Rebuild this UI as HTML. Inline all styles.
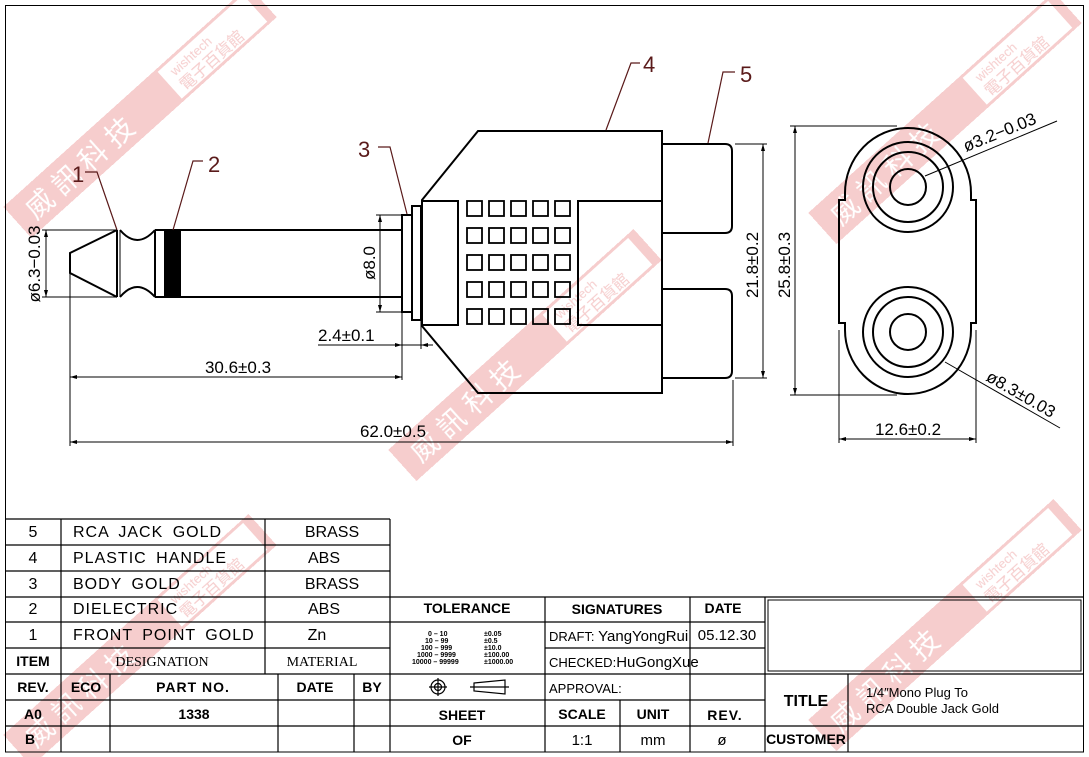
<!DOCTYPE html>
<html><head><meta charset="utf-8"><style>
html,body{margin:0;padding:0;background:#fff}
svg{display:block}
text{font-family:"Liberation Sans","Noto Sans CJK TC",sans-serif;fill:#000}
.r{fill:#5a1a1a}
</style></head><body>
<svg width="1089" height="757" viewBox="0 0 1089 757" xmlns="http://www.w3.org/2000/svg">
<defs>
<g id="wm">
<rect x="-165" y="-21" width="330" height="42" fill="#f2b8b8"/>
<text x="-150" y="11" font-size="28" style="fill:#fff" font-family="Noto Sans CJK TC,sans-serif">威 訊 科 技</text>
<rect x="40" y="-18" width="115" height="36" fill="#fff"/>
<text x="50" y="-3" font-size="13" style="fill:#f2b8b8">wishtech</text>
<text x="48" y="15" font-size="16" style="fill:#f2b8b8" font-family="Noto Sans CJK TC,sans-serif">電子百貨館</text>
</g>
</defs>
<g opacity="0.7">
<use href="#wm" transform="translate(140,112) rotate(-42)"/>
<use href="#wm" transform="translate(525,355) rotate(-42)"/>
<use href="#wm" transform="translate(945,118) rotate(-42)"/>
<use href="#wm" transform="translate(140,640) rotate(-42)"/>
<use href="#wm" transform="translate(945,625) rotate(-42)"/>
</g>
<g fill="none" stroke="#000" stroke-width="1">
<rect x="5.5" y="5.5" width="1078" height="746.5"/>
</g>
<!-- plug -->
<g fill="none" stroke="#000" stroke-width="2">
<path d="M117,230 L70,253 L70,273 L117,297"/>
<line x1="117" y1="230" x2="117" y2="297"/>
<line x1="120" y1="230" x2="120" y2="297" stroke-width="1"/>
<path d="M120,230 Q137,250 155,230"/>
<path d="M120,297 Q137,277 155,297"/>
<line x1="155" y1="230" x2="155" y2="297"/>
<line x1="155" y1="230" x2="402" y2="230"/>
<line x1="155" y1="297" x2="402" y2="297"/>
<rect x="402" y="215" width="10" height="97"/>
<rect x="412" y="206" width="9" height="114"/>
<path d="M422,200 L478,131 L662,131 L662,393 L478,393 L422,326 Z"/>
<path d="M422,201 L458,201 L458,325 L422,325"/>
<path d="M662,201 L578,201 L578,325 L662,325"/>
<path d="M662,144 L725,144 Q732,144 732,151 L732,226 Q732,233 725,233 L662,233"/>
<path d="M662,289 L725,289 Q732,289 732,296 L732,371 Q732,378 725,378 L662,378"/>
</g>
<rect x="164" y="230" width="17" height="67" fill="#000"/>
<g fill="none" stroke="#000" stroke-width="1.8">
<rect x="467" y="201" width="15" height="15"/><rect x="489" y="201" width="15" height="15"/><rect x="511" y="201" width="15" height="15"/><rect x="533" y="201" width="15" height="15"/><rect x="555" y="201" width="15" height="15"/>
<rect x="467" y="228" width="15" height="15"/><rect x="489" y="228" width="15" height="15"/><rect x="511" y="228" width="15" height="15"/><rect x="533" y="228" width="15" height="15"/><rect x="555" y="228" width="15" height="15"/>
<rect x="467" y="255" width="15" height="15"/><rect x="489" y="255" width="15" height="15"/><rect x="511" y="255" width="15" height="15"/><rect x="533" y="255" width="15" height="15"/><rect x="555" y="255" width="15" height="15"/>
<rect x="467" y="282" width="15" height="15"/><rect x="489" y="282" width="15" height="15"/><rect x="511" y="282" width="15" height="15"/><rect x="533" y="282" width="15" height="15"/><rect x="555" y="282" width="15" height="15"/>
<rect x="467" y="309" width="15" height="15"/><rect x="489" y="309" width="15" height="15"/><rect x="511" y="309" width="15" height="15"/><rect x="533" y="309" width="15" height="15"/><rect x="555" y="309" width="15" height="15"/>
</g>
<!-- leaders -->
<g fill="none" stroke="#5a1a1a" stroke-width="1.2">
<path d="M85,172 L97,172 L117,230"/>
<path d="M203,161 L193,161 L173,230"/>
<path d="M378,147 L390,147 L407,214"/>
<path d="M640,63 L631,63 L606,130"/>
<path d="M735,72 L723,72 L708,143"/>
</g>
<text class="r" x="72" y="182" font-size="22">1</text>
<text class="r" x="208" y="172" font-size="22">2</text>
<text class="r" x="358" y="157" font-size="22">3</text>
<text class="r" x="643" y="72" font-size="22">4</text>
<text class="r" x="740" y="82" font-size="22">5</text>
<!-- dimensions -->
<g fill="none" stroke="#000" stroke-width="1">
<line x1="42" y1="230" x2="117" y2="230"/><line x1="42" y1="297" x2="117" y2="297"/>
<line x1="46" y1="230" x2="46" y2="297"/>
<line x1="376" y1="215" x2="402" y2="215"/><line x1="376" y1="312" x2="402" y2="312"/>
<line x1="380" y1="215" x2="380" y2="312"/>
<line x1="402" y1="312" x2="402" y2="380"/><line x1="421" y1="320" x2="421" y2="349"/>
<line x1="318" y1="345" x2="433" y2="345"/>
<line x1="70" y1="273" x2="70" y2="446"/>
<line x1="70" y1="377" x2="402" y2="377"/>
<line x1="733" y1="380" x2="733" y2="446"/>
<line x1="70" y1="442" x2="733" y2="442"/>
<line x1="735" y1="144" x2="767" y2="144"/><line x1="735" y1="378" x2="767" y2="378"/>
<line x1="763" y1="144" x2="763" y2="378"/>
<line x1="790" y1="126" x2="897" y2="126"/><line x1="790" y1="395" x2="897" y2="395"/>
<line x1="795" y1="126" x2="795" y2="395"/>
<line x1="839" y1="330" x2="839" y2="443"/><line x1="976" y1="330" x2="976" y2="443"/>
<line x1="839" y1="439" x2="976" y2="439"/>
<line x1="925" y1="176" x2="1057" y2="121"/>
<line x1="945" y1="362" x2="1060" y2="428"/>
</g>
<g fill="#000">
<path d="M46,230 l-2,7 l4,0z M46,297 l-2,-7 l4,0z"/>
<path d="M380,215 l-2,7 l4,0z M380,312 l-2,-7 l4,0z"/>
<path d="M70,377 l7,-2 l0,4z M402,377 l-7,-2 l0,4z"/>
<path d="M70,442 l7,-2 l0,4z M733,442 l-7,-2 l0,4z"/>
<path d="M402,345 l-7,-2 l0,4z M421,345 l7,-2 l0,4z"/>
<path d="M763,144 l-2,7 l4,0z M763,378 l-2,-7 l4,0z"/>
<path d="M795,126 l-2,7 l4,0z M795,395 l-2,-7 l4,0z"/>
<path d="M839,439 l7,-2 l0,4z M976,439 l-7,-2 l0,4z"/>
</g>
<g font-size="17">
<text transform="translate(40,264) rotate(-90)" text-anchor="middle">ø6.3−0.03</text>
<text transform="translate(375,263) rotate(-90)" text-anchor="middle">ø8.0</text>
<text x="318" y="341">2.4±0.1</text>
<text x="238" y="373" text-anchor="middle">30.6±0.3</text>
<text x="393" y="437" text-anchor="middle">62.0±0.5</text>
<text transform="translate(758,265) rotate(-90)" text-anchor="middle">21.8±0.2</text>
<text transform="translate(790,265) rotate(-90)" text-anchor="middle">25.8±0.3</text>
<text x="908" y="435" text-anchor="middle">12.6±0.2</text>
<text transform="translate(966,152) rotate(-22)">ø3.2−0.03</text>
<text transform="translate(985,380) rotate(30)">ø8.3±0.03</text>
</g>
<!-- side view -->
<g fill="none" stroke="#000" stroke-width="2">
<path d="M845,193 A63,65 0 0 1 971,193 L971,200 L976,200 L976,323 L971,323 L971,330 A63,64 0 0 1 845,330 L845,323 L839,323 L839,200 L845,200 Z"/>
<circle cx="908" cy="187" r="45"/><circle cx="908" cy="187" r="35"/><circle cx="908" cy="187" r="18"/>
<circle cx="908" cy="332" r="45"/><circle cx="908" cy="332" r="35"/><circle cx="908" cy="332" r="18"/>
</g>
<!-- table -->
<g fill="none" stroke="#000" stroke-width="1.2">
<line x1="5" y1="519" x2="390" y2="519"/>
<line x1="5" y1="545" x2="390" y2="545"/>
<line x1="5" y1="571" x2="390" y2="571"/>
<line x1="5" y1="597" x2="1084" y2="597"/>
<line x1="5" y1="622" x2="765" y2="622"/>
<line x1="5" y1="648" x2="390" y2="648"/>
<line x1="545" y1="648" x2="765" y2="648"/>
<line x1="5" y1="674" x2="1084" y2="674"/>
<line x1="5" y1="700" x2="765" y2="700"/>
<line x1="5" y1="726" x2="1084" y2="726"/>
<line x1="390" y1="519" x2="390" y2="752"/>
<line x1="61" y1="519" x2="61" y2="752"/>
<line x1="265" y1="519" x2="265" y2="674"/>
<line x1="110" y1="674" x2="110" y2="752"/>
<line x1="278" y1="674" x2="278" y2="752"/>
<line x1="354" y1="674" x2="354" y2="752"/>
<line x1="545" y1="597" x2="545" y2="752"/>
<line x1="620" y1="700" x2="620" y2="752"/>
<line x1="690" y1="597" x2="690" y2="752"/>
<line x1="765" y1="597" x2="765" y2="752"/>
<line x1="848" y1="674" x2="848" y2="752"/>
<rect x="768" y="600" width="313" height="71" stroke-width="1"/>
</g>
<g font-size="16">
<text x="33" y="537" text-anchor="middle">5</text>
<text x="33" y="563" text-anchor="middle">4</text>
<text x="33" y="589" text-anchor="middle">3</text>
<text x="33" y="614" text-anchor="middle">2</text>
<text x="33" y="640" text-anchor="middle">1</text>
<text x="73" y="537" letter-spacing="1" word-spacing="4">RCA JACK GOLD</text>
<text x="73" y="563" letter-spacing="1" word-spacing="4">PLASTIC HANDLE</text>
<text x="73" y="589" letter-spacing="1" word-spacing="4">BODY GOLD</text>
<text x="73" y="614" letter-spacing="1">DIELECTRIC</text>
<text x="73" y="640" letter-spacing="1" word-spacing="4">FRONT POINT GOLD</text>
<text x="332" y="537" text-anchor="middle">BRASS</text>
<text x="324" y="563" text-anchor="middle">ABS</text>
<text x="332" y="589" text-anchor="middle">BRASS</text>
<text x="324" y="614" text-anchor="middle">ABS</text>
<text x="317" y="640" text-anchor="middle">Zn</text>
</g>
<g font-size="14" font-weight="bold">
<text x="33" y="666" text-anchor="middle">ITEM</text>
<text x="33" y="692" text-anchor="middle">REV.</text>
<text x="33" y="719" text-anchor="middle">A0</text>
<text x="30" y="744" text-anchor="middle">B</text>
<text x="86" y="692" text-anchor="middle">ECO</text>
<text x="193" y="692" text-anchor="middle" letter-spacing="1">PART NO.</text>
<text x="194" y="719" text-anchor="middle">1338</text>
<text x="315" y="692" text-anchor="middle">DATE</text>
<text x="372" y="692" text-anchor="middle">BY</text>
<text x="467" y="613" text-anchor="middle">TOLERANCE</text>
<text x="617" y="614" text-anchor="middle">SIGNATURES</text>
<text x="723" y="613" text-anchor="middle">DATE</text>
<text x="462" y="720" text-anchor="middle">SHEET</text>
<text x="462" y="745" text-anchor="middle">OF</text>
<text x="582" y="719" text-anchor="middle">SCALE</text>
<text x="653" y="719" text-anchor="middle">UNIT</text>
<text x="725" y="720" text-anchor="middle" letter-spacing="1">REV.</text>
<text x="806" y="744" text-anchor="middle">CUSTOMER</text>
<text x="806" y="706" text-anchor="middle" font-size="16">TITLE</text>
</g>
<g font-size="14">
<text x="162" y="666" text-anchor="middle" style="font-family:'Liberation Serif',serif">DESIGNATION</text>
<text x="322" y="666" text-anchor="middle" style="font-family:'Liberation Serif',serif">MATERIAL</text>
</g>
<g font-size="7" font-weight="bold">
<text x="428" y="636">0  –  10</text><text x="484" y="636">±0.05</text>
<text x="425" y="643">10  –  99</text><text x="484" y="643">±0.5</text>
<text x="421" y="650">100  –  999</text><text x="484" y="650">±10.0</text>
<text x="417" y="657">1000  –  9999</text><text x="484" y="657">±100.00</text>
<text x="412" y="664">10000  –  99999</text><text x="484" y="664">±1000.00</text>
</g>
<g fill="none" stroke="#000" stroke-width="1.2">
<circle cx="438" cy="687" r="7"/><circle cx="438" cy="687" r="3.5"/>
<line x1="429" y1="687" x2="447" y2="687"/><line x1="438" y1="678" x2="438" y2="696"/>
<path d="M474,683 L505,680 L505,694 L474,691 Z M470,687 L509,687"/>
</g>
<g font-size="13">
<text x="549" y="641">DRAFT: <tspan font-size="15">YangYongRui</tspan></text>
<text x="549" y="667">CHECKED:<tspan font-size="15">HuGongXue</tspan></text>
<text x="549" y="693">APPROVAL:</text>
<text x="727" y="640" text-anchor="middle" font-size="15">05.12.30</text>
<text x="582" y="745" text-anchor="middle" font-size="15">1:1</text>
<text x="653" y="745" text-anchor="middle" font-size="15">mm</text>
<text x="722" y="745" text-anchor="middle" font-size="15">ø</text>
<text x="866" y="697">1/4″Mono  Plug  To</text>
<text x="866" y="713">RCA  Double  Jack  Gold</text>
</g>
</svg>
</body></html>
